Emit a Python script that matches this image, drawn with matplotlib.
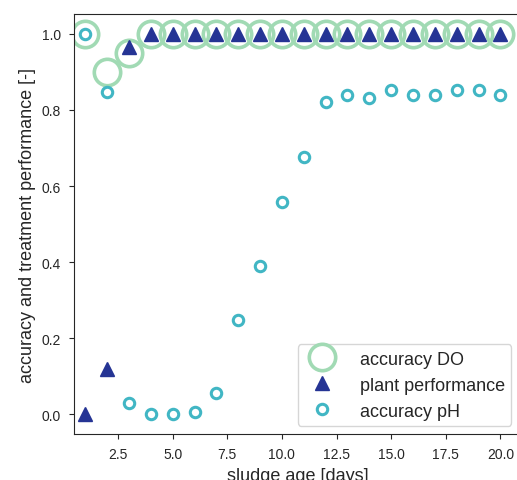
import matplotlib
matplotlib.use("Agg")
import matplotlib.pyplot as plt
import seaborn as sns

# ── Data ──────────────────────────────────────────────────────────────────────
sludge_age = list(range(1, 21))
acc_do = [1.0, 0.90, 0.95] + [1.0] * 17
plant_perf = [0.0, 0.12, 0.965] + [1.0] * 17
acc_ph = [1.0, 0.846, 0.03, 0.0, 0.0, 0.005, 0.055, 0.247, 0.391, 0.558,
          0.677, 0.82, 0.838, 0.831, 0.853, 0.838, 0.838, 0.853, 0.853, 0.838]

c_do, c_ph, c_plant = "#a1dab4", "#41b6c4", "#253494"

# ── Style ─────────────────────────────────────────────────────────────────────
sns.set_style("ticks")
plt.rcParams["font.family"] = ["Liberation Sans", "DejaVu Sans"]

fig = plt.figure(figsize=(5.17, 4.81), dpi=100)
ax = fig.add_axes([0.143, 0.0956, 0.865, 0.873])

ax.plot(sludge_age, acc_do, ls="none", marker="o", ms=19, mfc="none",
        mec=c_do, mew=2.6, label="accuracy DO")
ax.plot(sludge_age, plant_perf, ls="none", marker="^", ms=10.5,
        color=c_plant, label="plant performance")
ax.plot(sludge_age, acc_ph, ls="none", marker="o", ms=7.5, mfc="none",
        mec=c_ph, mew=2.2, label="accuracy pH")

ax.set_xlim(0.48, 20.95)
ax.set_ylim(-0.052, 1.052)
ax.set_xticks([2.5, 5.0, 7.5, 10.0, 12.5, 15.0, 17.5, 20.0])
ax.set_yticks([0.0, 0.2, 0.4, 0.6, 0.8, 1.0])
ax.tick_params(labelsize=10, pad=6)
ax.set_xlabel("sludge age [days]", fontsize=13, labelpad=4)
ax.set_ylabel("accuracy and treatment performance [-]", fontsize=13)

ax.legend(loc="lower right", fontsize=13, borderpad=0.35, labelspacing=0.5,
          handletextpad=1.1, borderaxespad=0,
          bbox_to_anchor=(0.978, 0.019))

fig.savefig("out.png", dpi=100)
